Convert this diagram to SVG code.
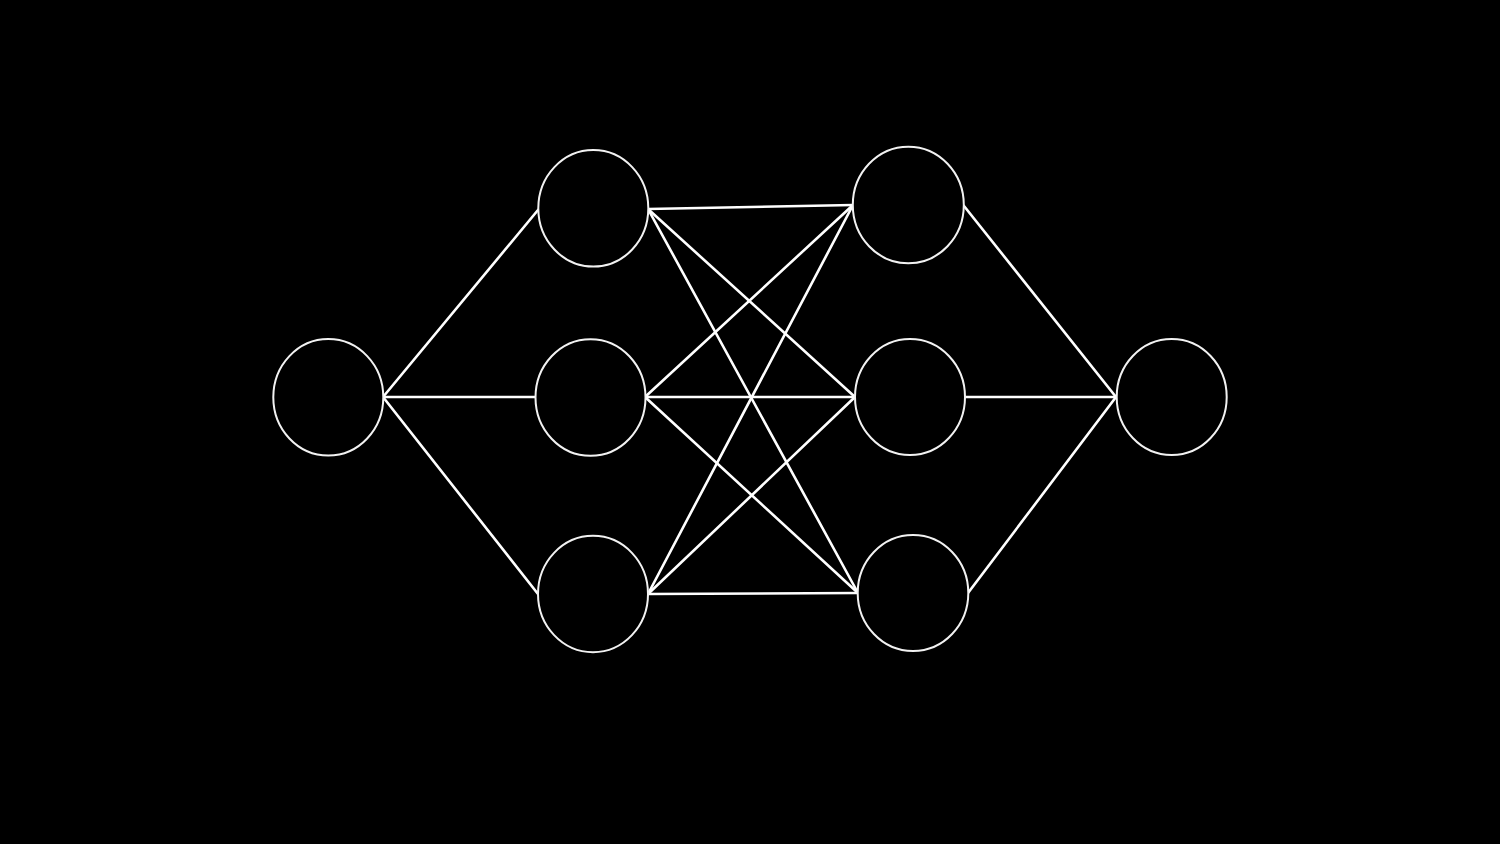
<svg xmlns="http://www.w3.org/2000/svg" width="1500" height="844" viewBox="0 0 1500 844">
<style>
.node ellipse{fill:#000;stroke:#f2f2f2;stroke-width:2}
.edges line{stroke:#fff;stroke-width:2.6;stroke-linecap:round}
</style>
<rect width="1500" height="844" fill="#000"/>
<g class="edges" id="connectors">
<line x1="383" y1="397" x2="538" y2="210"/>
<line x1="383" y1="397" x2="535" y2="397"/>
<line x1="383" y1="397" x2="538" y2="594"/>
<line x1="648" y1="209" x2="853" y2="205"/>
<line x1="648" y1="209" x2="855" y2="397"/>
<line x1="648" y1="209" x2="858" y2="593"/>
<line x1="645" y1="397" x2="853" y2="205"/>
<line x1="645" y1="397" x2="855" y2="397"/>
<line x1="645" y1="397" x2="858" y2="593"/>
<line x1="648" y1="594" x2="853" y2="205"/>
<line x1="648" y1="594" x2="855" y2="397"/>
<line x1="648" y1="594" x2="858" y2="593"/>
<line x1="964" y1="206" x2="1116" y2="397"/>
<line x1="965" y1="397" x2="1116" y2="397"/>
<line x1="968" y1="593" x2="1116" y2="397"/>
</g>
<g class="node" id="input"><ellipse cx="328.3" cy="397.3" rx="55" ry="58.3"/></g>
<g class="node" id="h1a"><ellipse cx="593.3" cy="208.3" rx="55" ry="58.3"/></g>
<g class="node" id="h1b"><ellipse cx="590.5" cy="397.5" rx="55" ry="58.3"/></g>
<g class="node" id="h1c"><ellipse cx="593" cy="594" rx="55" ry="58.2"/></g>
<g class="node" id="h2a"><ellipse cx="908.3" cy="205" rx="55.5" ry="58.3"/></g>
<g class="node" id="h2b"><ellipse cx="910" cy="397" rx="55" ry="58"/></g>
<g class="node" id="h2c"><ellipse cx="913" cy="593" rx="55.3" ry="58"/></g>
<g class="node" id="output"><ellipse cx="1171.7" cy="397" rx="55" ry="58"/></g>
</svg>
